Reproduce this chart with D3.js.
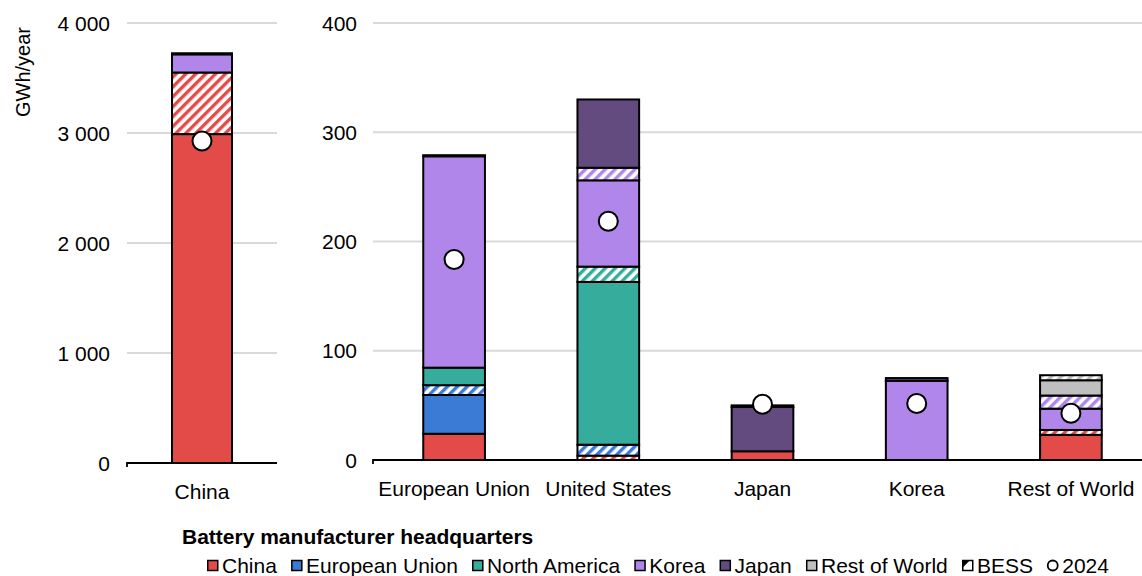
<!DOCTYPE html>
<html>
<head>
<meta charset="utf-8">
<script src="https://cdn.jsdelivr.net/npm/d3@7"></script>
<style>
  body { margin: 0; background: #fff; }
  svg { display: block; font-family: "Liberation Sans", Arial, sans-serif; }
</style>
</head>
<body>
<svg id="chart" width="1142" height="576"></svg>
<script>
// ---------- DATA ----------
const categories = ["China", "European Union", "United States", "Japan", "Korea", "Rest of World"];
const leftCategories = ["China"];
const rightCategories = ["European Union", "United States", "Japan", "Korea", "Rest of World"];

// Series values per category (GWh/year), stacked bottom to top
const seriesChina      = [2990, 24, 0, 8, 0, 23];
const seriesChinaBESS  = [560, 0, 4, 0, 0, 4.5];
const seriesEU         = [0, 35.5, 0, 0, 0, 0];
const seriesEUBESS     = [0, 9, 10, 0, 0, 0];
const seriesNA         = [0, 16, 149, 0, 0, 0];
const seriesNABESS     = [0, 0, 14, 0, 0, 0];
const seriesKorea      = [165, 193.5, 79, 0, 72.5, 19.5];
const seriesKoreaBESS  = [0, 0, 11.5, 0, 0, 12];
const seriesJapan      = [10, 1, 62.5, 40.5, 2.5, 0];
const seriesRoW        = [0, 0, 0, 1.5, 0, 14];
const seriesRoWBESS    = [0, 0, 0, 0, 0, 4.6];
const values2024       = [2927, 183.5, 218.5, 51, 51.7, 42.8];

const leftTicks = [0, 1000, 2000, 3000, 4000];
const rightTicks = [0, 100, 200, 300, 400];

const legendNames = ["China", "European Union", "North America", "Korea", "Japan", "Rest of World"];
const colors = ["#e24b47", "#3b7bd6", "#36ad9c", "#b186ea", "#634b80", "#bfbfbf"];

// ---------- BUILD ----------
const seriesDefs = [
  { key: "China", vals: seriesChina, color: colors[0], hatch: false },
  { key: "ChinaBESS", vals: seriesChinaBESS, color: colors[0], hatch: true },
  { key: "EU", vals: seriesEU, color: colors[1], hatch: false },
  { key: "EUBESS", vals: seriesEUBESS, color: colors[1], hatch: true },
  { key: "NA", vals: seriesNA, color: colors[2], hatch: false },
  { key: "NABESS", vals: seriesNABESS, color: colors[2], hatch: true },
  { key: "Korea", vals: seriesKorea, color: colors[3], hatch: false },
  { key: "KoreaBESS", vals: seriesKoreaBESS, color: colors[3], hatch: true },
  { key: "Japan", vals: seriesJapan, color: colors[4], hatch: false },
  { key: "RoW", vals: seriesRoW, color: colors[5], hatch: false },
  { key: "RoWBESS", vals: seriesRoWBESS, color: colors[5], hatch: true }
];

const rows = categories.map((c, i) => {
  const r = { cat: c };
  seriesDefs.forEach(s => r[s.key] = s.vals[i]);
  return r;
});
const stack = d3.stack().keys(seriesDefs.map(s => s.key));
const stacked = stack(rows);

const svg = d3.select("#chart");
const defs = svg.append("defs");
const font = 21;

// hatch patterns
colors.forEach((c, i) => {
  const p = defs.append("pattern")
    .attr("id", "hatch" + i)
    .attr("patternUnits", "userSpaceOnUse")
    .attr("width", 7).attr("height", 7)
    .attr("patternTransform", "rotate(45)");
  p.append("rect").attr("width", 7).attr("height", 7).attr("fill", "#fff");
  p.append("rect").attr("x", 0).attr("width", 3.4).attr("height", 7).attr("fill", c);
});
function fillFor(s) {
  const ci = colors.indexOf(s.color);
  return s.hatch ? "url(#hatch" + ci + ")" : s.color;
}

// scales
const yLeft = d3.scaleLinear().domain([0, 4000]).range([463, 23]);
const yRight = d3.scaleLinear().domain([0, 400]).range([460, 23]);
const xLeft = d3.scaleBand().domain(leftCategories).range([127, 277]).paddingInner(0.6).paddingOuter(0.3);
const xRight = d3.scaleBand().domain(rightCategories).range([377, 1148]).paddingInner(0.6).paddingOuter(0.3);

const fmt = v => d3.format(",")(v).replace(/,/g, " ");

// gridlines & tick labels
function drawAxis(y, ticks, x0, x1, labelX) {
  const g = svg.append("g");
  g.selectAll("line.grid").data(ticks.filter(t => t > 0)).enter().append("line")
    .attr("x1", x0).attr("x2", x1)
    .attr("y1", d => y(d)).attr("y2", d => y(d))
    .attr("stroke", "#d9d9d9").attr("stroke-width", 2);
  g.selectAll("text").data(ticks).enter().append("text")
    .attr("x", labelX).attr("y", d => y(d)).attr("dy", "0.36em")
    .attr("text-anchor", "end").attr("font-size", font).attr("fill", "#000")
    .text(d => fmt(d));
  // baseline axis with small tick
  g.append("path")
    .attr("d", `M${x0},${y(0) + 4}V${y(0)}H${x1}`)
    .attr("fill", "none").attr("stroke", "#000").attr("stroke-width", 1.8);
}
drawAxis(yLeft, leftTicks, 127, 277, 110);
drawAxis(yRight, rightTicks, 373, 1142, 357);

// bars
function xFor(cat) { return cat === "China" ? xLeft(cat) : xRight(cat); }
function bwFor(cat) { return cat === "China" ? xLeft.bandwidth() : xRight.bandwidth(); }
function yFor(cat) { return cat === "China" ? yLeft : yRight; }

stacked.forEach((layer, li) => {
  const s = seriesDefs[li];
  layer.forEach((d, ci) => {
    const cat = categories[ci];
    if (d[1] - d[0] <= 0) return;
    const y = yFor(cat);
    svg.append("rect")
      .attr("x", xFor(cat)).attr("width", bwFor(cat))
      .attr("y", y(d[1])).attr("height", y(d[0]) - y(d[1]))
      .attr("fill", fillFor(s))
      .attr("stroke", "#000").attr("stroke-width", 2);
  });
});

// 2024 markers
categories.forEach((cat, i) => {
  svg.append("circle")
    .attr("cx", xFor(cat) + bwFor(cat) / 2)
    .attr("cy", yFor(cat)(values2024[i]))
    .attr("r", 9.5)
    .attr("fill", "#fff").attr("stroke", "#000").attr("stroke-width", 2);
});

// category labels
svg.append("text").attr("x", xLeft("China") + xLeft.bandwidth() / 2).attr("y", 499)
  .attr("text-anchor", "middle").attr("font-size", font).text("China");
rightCategories.forEach(c => {
  svg.append("text").attr("x", xRight(c) + xRight.bandwidth() / 2).attr("y", 496)
    .attr("text-anchor", "middle").attr("font-size", font).text(c);
});

// y axis title
svg.append("text")
  .attr("transform", "translate(30,27) rotate(-90)")
  .attr("text-anchor", "end").attr("font-size", 20).text("GWh/year");

// legend
svg.append("text").attr("x", 182).attr("y", 544)
  .attr("font-size", font).attr("font-weight", "bold").text("Battery manufacturer headquarters");

let lx = 207;
const ly = 573;
const legendItems = legendNames.map((n, i) => ({ name: n, type: "sq", color: colors[i] }))
  .concat([{ name: "BESS", type: "bess" }, { name: "2024", type: "circle" }]);
legendItems.forEach(it => {
  const g = svg.append("g");
  if (it.type === "sq") {
    g.append("rect").attr("x", lx + 0.75).attr("y", ly - 12.5).attr("width", 10).attr("height", 10)
      .attr("fill", it.color).attr("stroke", "#000").attr("stroke-width", 1.5);
  } else if (it.type === "bess") {
    g.append("rect").attr("x", lx + 0.75).attr("y", ly - 12.5).attr("width", 10).attr("height", 10)
      .attr("fill", "#fff").attr("stroke", "#000").attr("stroke-width", 1.5);
    g.append("path").attr("d", `M${lx + 0.75},${ly - 12.5}h7l-7,7z`).attr("fill", "#000");
  } else {
    g.append("circle").attr("cx", lx + 5.5).attr("cy", ly - 7.5).attr("r", 5)
      .attr("fill", "#fff").attr("stroke", "#000").attr("stroke-width", 1.8);
  }
  const t = g.append("text").attr("x", lx + 15).attr("y", ly).attr("font-size", font).text(it.name);
  lx += 15 + t.node().getComputedTextLength() + 14.2;
});
</script>
</body>
</html>
